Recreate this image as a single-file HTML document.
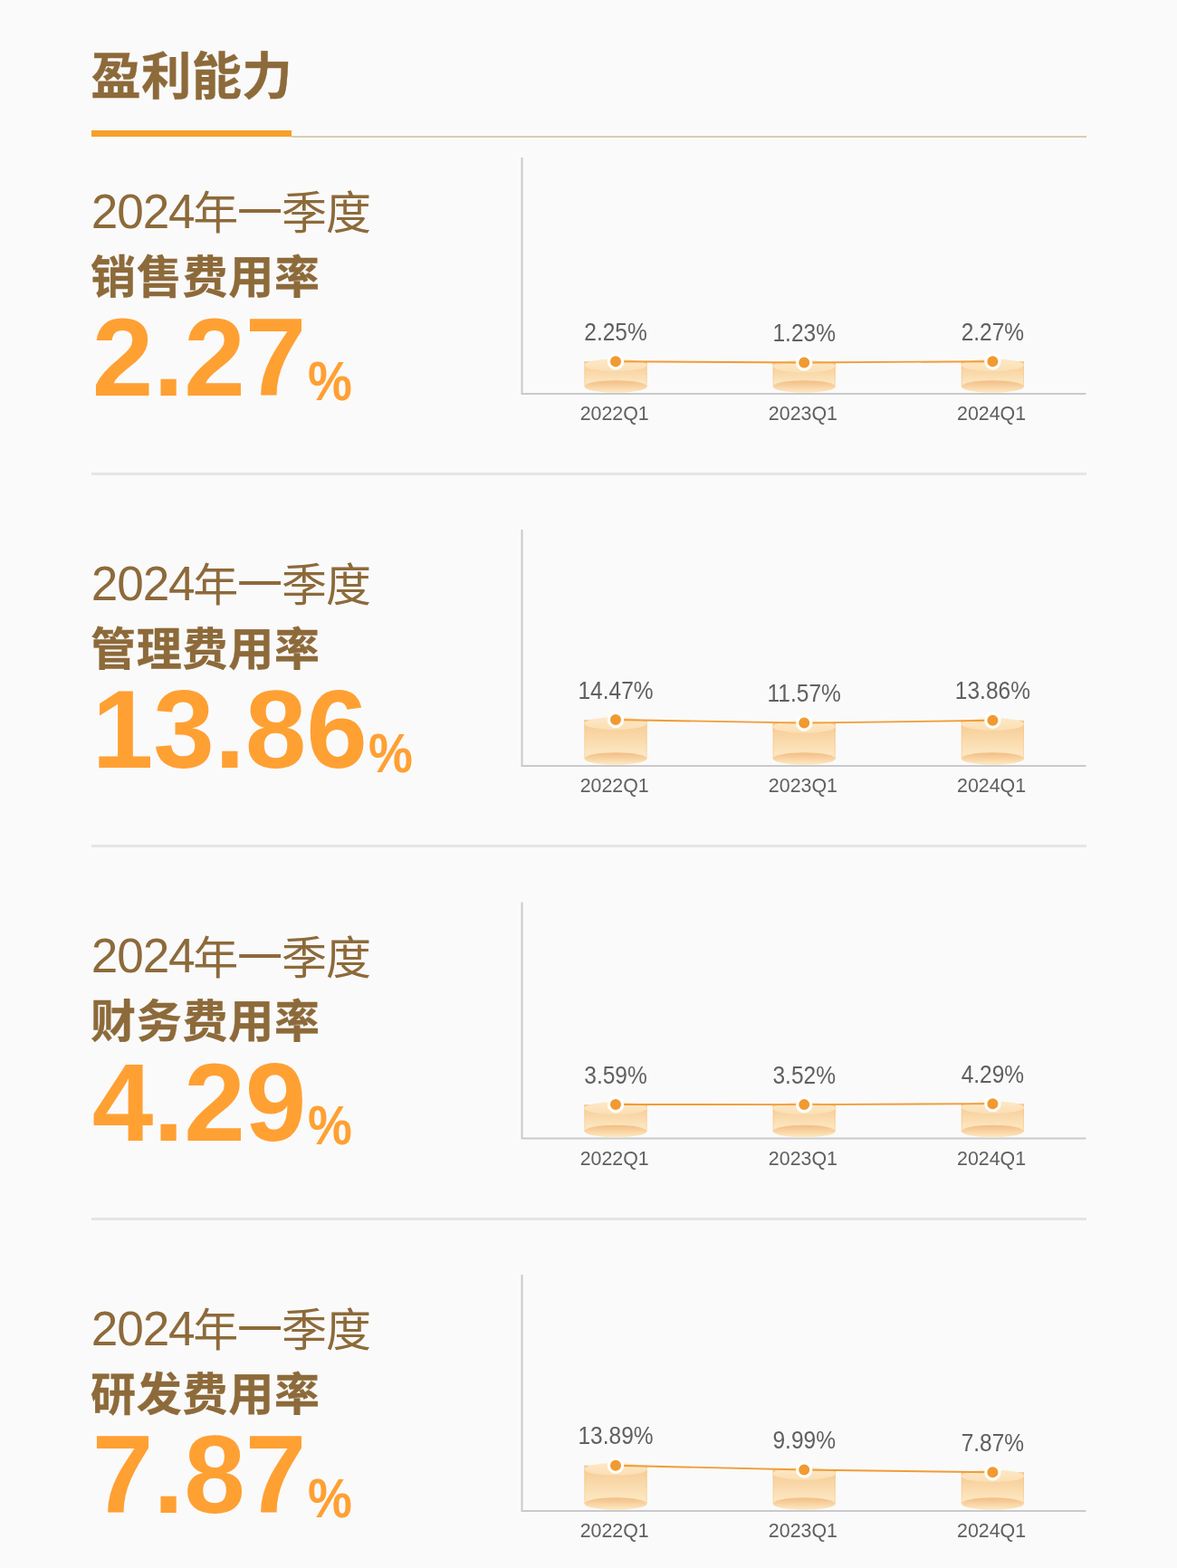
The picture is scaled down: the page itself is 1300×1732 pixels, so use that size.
<!DOCTYPE html>
<html lang="zh-CN">
<head>
<meta charset="utf-8">
<title>盈利能力</title>
<style>
*{margin:0;padding:0;box-sizing:border-box}
html,body{width:1300px;height:1732px;background:#fafafa;overflow:hidden}
body{position:relative;font-family:"Liberation Sans","Noto Sans CJK SC",sans-serif;color:#8c6a3a}
.abs{position:absolute;white-space:nowrap;line-height:1}
.title{left:100.2px;top:58px;font-size:55.4px;font-weight:700;color:#8d6a3a;letter-spacing:.3px;-webkit-text-stroke:.4px #8d6a3a}
.bar{position:absolute;left:101px;top:143.5px;width:221.2px;height:7.4px;background:#f5a02a}
.rule{position:absolute;left:322px;top:150.3px;width:877.5px;height:1.5px;background:#d9ccb2}
.sep{position:absolute;left:101px;width:1099px;height:3.2px;background:#e5e5e7}
.period{font-size:50px;font-weight:400;color:#8d6a3a;height:60px;line-height:60px}
.period .d{font-size:53.1px;letter-spacing:-1.1px}
.period .c{letter-spacing:-1px;position:relative;top:1.4px;margin-left:-1.4px}
.name{font-size:50px;font-weight:700;color:#8d6a3a;letter-spacing:.75px;-webkit-text-stroke:.35px #8d6a3a}
.num{font-size:121.5px;font-weight:700;color:#ffa033;height:130px;line-height:130px}
.pct{display:inline-block;font-size:61px;transform:scaleX(.9);transform-origin:0 50%;position:relative;top:4.7px;margin-left:1.4px}
svg{position:absolute;left:0;top:0}
svg text{font-family:"Liberation Sans","Noto Sans CJK SC",sans-serif;fill:#606060}
</style>
</head>
<body>
<div class="abs title">盈利能力</div>
<div class="bar"></div>
<div class="rule"></div>
<div class="abs period" style="left:100.8px;top:203.90px"><span class="d">2024</span><span class="c">年一季度</span></div>
<div class="abs name" style="left:100px;top:281.90px">销售费用率</div>
<div class="abs num" style="left:101.8px;top:330.00px"><span class="n">2.27</span><span class="pct">%</span></div>
<div class="sep" style="top:522.10px"></div>
<div class="abs period" style="left:100.8px;top:614.90px"><span class="d">2024</span><span class="c">年一季度</span></div>
<div class="abs name" style="left:100px;top:692.90px">管理费用率</div>
<div class="abs num" style="left:101.8px;top:741.00px"><span class="n">13.86</span><span class="pct">%</span></div>
<div class="sep" style="top:933.10px"></div>
<div class="abs period" style="left:100.8px;top:1026.40px"><span class="d">2024</span><span class="c">年一季度</span></div>
<div class="abs name" style="left:100px;top:1104.40px">财务费用率</div>
<div class="abs num" style="left:101.8px;top:1152.50px"><span class="n">4.29</span><span class="pct">%</span></div>
<div class="sep" style="top:1344.60px"></div>
<div class="abs period" style="left:100.8px;top:1437.90px"><span class="d">2024</span><span class="c">年一季度</span></div>
<div class="abs name" style="left:100px;top:1515.90px">研发费用率</div>
<div class="abs num" style="left:101.8px;top:1564.00px"><span class="n">7.87</span><span class="pct">%</span></div>
<svg width="1300" height="1732" viewBox="0 0 1300 1732">
<defs>
<linearGradient id="gb" x1="0" y1="0" x2="0" y2="1"><stop offset="0" stop-color="#f6c990"/><stop offset="1" stop-color="#fdebc8"/></linearGradient>
<linearGradient id="gt" x1="0" y1="0" x2="0" y2="1"><stop offset="0" stop-color="#fde8c6"/><stop offset="1" stop-color="#fbdfb4"/></linearGradient>
<linearGradient id="ge" x1="0" y1="0" x2="0" y2="1"><stop offset="0" stop-color="#f3bd84"/><stop offset="1" stop-color="#fde9c1"/></linearGradient>
</defs>
<g>
<path d="M576.5 174.00V435.00H1199.5" fill="none" stroke="#c9c9ce" stroke-width="2"/>
<rect x="645.40" y="399.20" width="69.2" height="27.80" fill="url(#gb)"/>
<path d="M645.90 399.20V427.00M714.10 399.20V427.00" fill="none" stroke="#f5b66e" stroke-opacity=".35" stroke-width="1"/>
<ellipse cx="680.00" cy="427.00" rx="34.6" ry="6.7" fill="url(#ge)"/>
<ellipse cx="680.00" cy="403.30" rx="34.6" ry="6.8" fill="url(#gt)"/>
<rect x="853.60" y="400.47" width="69.2" height="26.53" fill="url(#gb)"/>
<path d="M854.10 400.47V427.00M922.30 400.47V427.00" fill="none" stroke="#f5b66e" stroke-opacity=".35" stroke-width="1"/>
<ellipse cx="888.20" cy="427.00" rx="34.6" ry="6.7" fill="url(#ge)"/>
<ellipse cx="888.20" cy="404.57" rx="34.6" ry="6.8" fill="url(#gt)"/>
<rect x="1061.80" y="399.18" width="69.2" height="27.82" fill="url(#gb)"/>
<path d="M1062.30 399.18V427.00M1130.50 399.18V427.00" fill="none" stroke="#f5b66e" stroke-opacity=".35" stroke-width="1"/>
<ellipse cx="1096.40" cy="427.00" rx="34.6" ry="6.7" fill="url(#ge)"/>
<ellipse cx="1096.40" cy="403.28" rx="34.6" ry="6.8" fill="url(#gt)"/>
<polyline points="680.00,399.20 888.20,400.47 1096.40,399.18" fill="none" stroke="#f29c36" stroke-width="1.9"/>
<circle cx="680.00" cy="399.20" r="7.6" fill="#f19a30" stroke="#fff" stroke-width="3.2"/>
<text transform="translate(680.00 375.90) scale(.86 1)" font-size="28.5" text-anchor="middle">2.25%</text>
<text transform="translate(678.70 464.20) scale(.955 1)" font-size="22.4" text-anchor="middle">2022Q1</text>
<circle cx="888.20" cy="400.47" r="7.6" fill="#f19a30" stroke="#fff" stroke-width="3.2"/>
<text transform="translate(888.20 377.17) scale(.86 1)" font-size="28.5" text-anchor="middle">1.23%</text>
<text transform="translate(886.90 464.20) scale(.955 1)" font-size="22.4" text-anchor="middle">2023Q1</text>
<circle cx="1096.40" cy="399.18" r="7.6" fill="#f19a30" stroke="#fff" stroke-width="3.2"/>
<text transform="translate(1096.40 375.88) scale(.86 1)" font-size="28.5" text-anchor="middle">2.27%</text>
<text transform="translate(1095.10 464.20) scale(.955 1)" font-size="22.4" text-anchor="middle">2024Q1</text>
</g>
<g>
<path d="M576.5 585.00V846.00H1199.5" fill="none" stroke="#c9c9ce" stroke-width="2"/>
<rect x="645.40" y="795.00" width="69.2" height="43.00" fill="url(#gb)"/>
<path d="M645.90 795.00V838.00M714.10 795.00V838.00" fill="none" stroke="#f5b66e" stroke-opacity=".35" stroke-width="1"/>
<ellipse cx="680.00" cy="838.00" rx="34.6" ry="6.7" fill="url(#ge)"/>
<ellipse cx="680.00" cy="799.10" rx="34.6" ry="6.8" fill="url(#gt)"/>
<rect x="853.60" y="798.61" width="69.2" height="39.39" fill="url(#gb)"/>
<path d="M854.10 798.61V838.00M922.30 798.61V838.00" fill="none" stroke="#f5b66e" stroke-opacity=".35" stroke-width="1"/>
<ellipse cx="888.20" cy="838.00" rx="34.6" ry="6.7" fill="url(#ge)"/>
<ellipse cx="888.20" cy="802.71" rx="34.6" ry="6.8" fill="url(#gt)"/>
<rect x="1061.80" y="795.76" width="69.2" height="42.24" fill="url(#gb)"/>
<path d="M1062.30 795.76V838.00M1130.50 795.76V838.00" fill="none" stroke="#f5b66e" stroke-opacity=".35" stroke-width="1"/>
<ellipse cx="1096.40" cy="838.00" rx="34.6" ry="6.7" fill="url(#ge)"/>
<ellipse cx="1096.40" cy="799.86" rx="34.6" ry="6.8" fill="url(#gt)"/>
<polyline points="680.00,795.00 888.20,798.61 1096.40,795.76" fill="none" stroke="#f29c36" stroke-width="1.9"/>
<circle cx="680.00" cy="795.00" r="7.6" fill="#f19a30" stroke="#fff" stroke-width="3.2"/>
<text transform="translate(680.00 771.70) scale(.86 1)" font-size="28.5" text-anchor="middle">14.47%</text>
<text transform="translate(678.70 875.20) scale(.955 1)" font-size="22.4" text-anchor="middle">2022Q1</text>
<circle cx="888.20" cy="798.61" r="7.6" fill="#f19a30" stroke="#fff" stroke-width="3.2"/>
<text transform="translate(888.20 775.31) scale(.86 1)" font-size="28.5" text-anchor="middle">11.57%</text>
<text transform="translate(886.90 875.20) scale(.955 1)" font-size="22.4" text-anchor="middle">2023Q1</text>
<circle cx="1096.40" cy="795.76" r="7.6" fill="#f19a30" stroke="#fff" stroke-width="3.2"/>
<text transform="translate(1096.40 772.46) scale(.86 1)" font-size="28.5" text-anchor="middle">13.86%</text>
<text transform="translate(1095.10 875.20) scale(.955 1)" font-size="22.4" text-anchor="middle">2024Q1</text>
</g>
<g>
<path d="M576.5 996.50V1257.50H1199.5" fill="none" stroke="#c9c9ce" stroke-width="2"/>
<rect x="645.40" y="1220.03" width="69.2" height="29.47" fill="url(#gb)"/>
<path d="M645.90 1220.03V1249.50M714.10 1220.03V1249.50" fill="none" stroke="#f5b66e" stroke-opacity=".35" stroke-width="1"/>
<ellipse cx="680.00" cy="1249.50" rx="34.6" ry="6.7" fill="url(#ge)"/>
<ellipse cx="680.00" cy="1224.13" rx="34.6" ry="6.8" fill="url(#gt)"/>
<rect x="853.60" y="1220.12" width="69.2" height="29.38" fill="url(#gb)"/>
<path d="M854.10 1220.12V1249.50M922.30 1220.12V1249.50" fill="none" stroke="#f5b66e" stroke-opacity=".35" stroke-width="1"/>
<ellipse cx="888.20" cy="1249.50" rx="34.6" ry="6.7" fill="url(#ge)"/>
<ellipse cx="888.20" cy="1224.22" rx="34.6" ry="6.8" fill="url(#gt)"/>
<rect x="1061.80" y="1219.16" width="69.2" height="30.34" fill="url(#gb)"/>
<path d="M1062.30 1219.16V1249.50M1130.50 1219.16V1249.50" fill="none" stroke="#f5b66e" stroke-opacity=".35" stroke-width="1"/>
<ellipse cx="1096.40" cy="1249.50" rx="34.6" ry="6.7" fill="url(#ge)"/>
<ellipse cx="1096.40" cy="1223.26" rx="34.6" ry="6.8" fill="url(#gt)"/>
<polyline points="680.00,1220.03 888.20,1220.12 1096.40,1219.16" fill="none" stroke="#f29c36" stroke-width="1.9"/>
<circle cx="680.00" cy="1220.03" r="7.6" fill="#f19a30" stroke="#fff" stroke-width="3.2"/>
<text transform="translate(680.00 1196.73) scale(.86 1)" font-size="28.5" text-anchor="middle">3.59%</text>
<text transform="translate(678.70 1286.70) scale(.955 1)" font-size="22.4" text-anchor="middle">2022Q1</text>
<circle cx="888.20" cy="1220.12" r="7.6" fill="#f19a30" stroke="#fff" stroke-width="3.2"/>
<text transform="translate(888.20 1196.82) scale(.86 1)" font-size="28.5" text-anchor="middle">3.52%</text>
<text transform="translate(886.90 1286.70) scale(.955 1)" font-size="22.4" text-anchor="middle">2023Q1</text>
<circle cx="1096.40" cy="1219.16" r="7.6" fill="#f19a30" stroke="#fff" stroke-width="3.2"/>
<text transform="translate(1096.40 1195.86) scale(.86 1)" font-size="28.5" text-anchor="middle">4.29%</text>
<text transform="translate(1095.10 1286.70) scale(.955 1)" font-size="22.4" text-anchor="middle">2024Q1</text>
</g>
<g>
<path d="M576.5 1408.00V1669.00H1199.5" fill="none" stroke="#c9c9ce" stroke-width="2"/>
<rect x="645.40" y="1618.72" width="69.2" height="42.28" fill="url(#gb)"/>
<path d="M645.90 1618.72V1661.00M714.10 1618.72V1661.00" fill="none" stroke="#f5b66e" stroke-opacity=".35" stroke-width="1"/>
<ellipse cx="680.00" cy="1661.00" rx="34.6" ry="6.7" fill="url(#ge)"/>
<ellipse cx="680.00" cy="1622.82" rx="34.6" ry="6.8" fill="url(#gt)"/>
<rect x="853.60" y="1623.57" width="69.2" height="37.43" fill="url(#gb)"/>
<path d="M854.10 1623.57V1661.00M922.30 1623.57V1661.00" fill="none" stroke="#f5b66e" stroke-opacity=".35" stroke-width="1"/>
<ellipse cx="888.20" cy="1661.00" rx="34.6" ry="6.7" fill="url(#ge)"/>
<ellipse cx="888.20" cy="1627.67" rx="34.6" ry="6.8" fill="url(#gt)"/>
<rect x="1061.80" y="1626.21" width="69.2" height="34.79" fill="url(#gb)"/>
<path d="M1062.30 1626.21V1661.00M1130.50 1626.21V1661.00" fill="none" stroke="#f5b66e" stroke-opacity=".35" stroke-width="1"/>
<ellipse cx="1096.40" cy="1661.00" rx="34.6" ry="6.7" fill="url(#ge)"/>
<ellipse cx="1096.40" cy="1630.31" rx="34.6" ry="6.8" fill="url(#gt)"/>
<polyline points="680.00,1618.72 888.20,1623.57 1096.40,1626.21" fill="none" stroke="#f29c36" stroke-width="1.9"/>
<circle cx="680.00" cy="1618.72" r="7.6" fill="#f19a30" stroke="#fff" stroke-width="3.2"/>
<text transform="translate(680.00 1595.42) scale(.86 1)" font-size="28.5" text-anchor="middle">13.89%</text>
<text transform="translate(678.70 1698.20) scale(.955 1)" font-size="22.4" text-anchor="middle">2022Q1</text>
<circle cx="888.20" cy="1623.57" r="7.6" fill="#f19a30" stroke="#fff" stroke-width="3.2"/>
<text transform="translate(888.20 1600.27) scale(.86 1)" font-size="28.5" text-anchor="middle">9.99%</text>
<text transform="translate(886.90 1698.20) scale(.955 1)" font-size="22.4" text-anchor="middle">2023Q1</text>
<circle cx="1096.40" cy="1626.21" r="7.6" fill="#f19a30" stroke="#fff" stroke-width="3.2"/>
<text transform="translate(1096.40 1602.91) scale(.86 1)" font-size="28.5" text-anchor="middle">7.87%</text>
<text transform="translate(1095.10 1698.20) scale(.955 1)" font-size="22.4" text-anchor="middle">2024Q1</text>
</g>
</svg>
</body>
</html>
